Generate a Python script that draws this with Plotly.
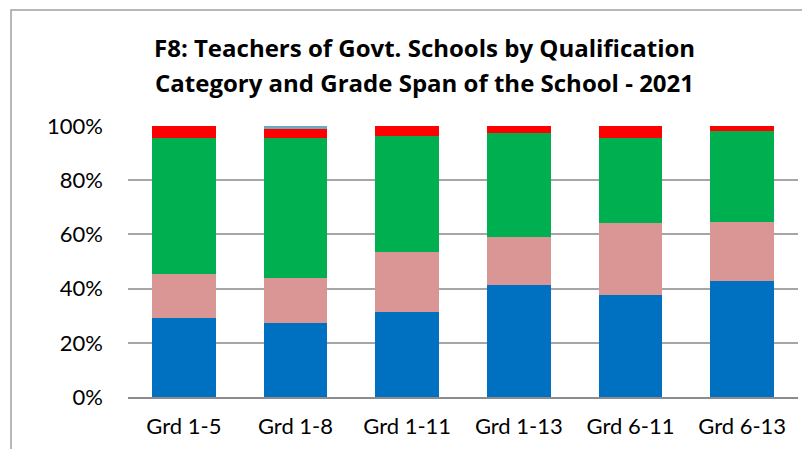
import plotly.graph_objects as go

# Grade spans and share of teachers (%) by qualification category
grades = ['Grd 1-5', 'Grd 1-8', 'Grd 1-11', 'Grd 1-13', 'Grd 6-11', 'Grd 6-13']
cat_a = [29.0, 27.4, 31.4, 41.3, 37.7, 42.8]   # blue
cat_b = [16.5, 16.6, 22.1, 17.9, 26.6, 21.9]   # pink
cat_c = [50.2, 51.4, 42.7, 38.2, 31.1, 33.6]   # green
cat_d = [4.3, 3.6, 3.8, 2.6, 4.6, 1.7]         # red
cat_e = [0.0, 1.0, 0.0, 0.0, 0.0, 0.0]         # light blue

y_ticks = [0, 20, 40, 60, 80, 100]
title_lines = ['F8: Teachers of Govt. Schools by Qualification',
               'Category and Grade Span of the School - 2021']

FONT = 'Lato, Calibri, Arial, sans-serif'
TITLE_FONT = 'Open Sans, Calibri, Arial, sans-serif'

series = [
    (cat_a, '#0070C0'),
    (cat_b, '#DA9694'),
    (cat_c, '#00B050'),
    (cat_d, '#FF0000'),
    (cat_e, '#6FA6C0'),
]

fig = go.Figure()
for vals, color in series:
    fig.add_trace(go.Bar(
        x=grades,
        y=vals,
        marker=dict(color=color, line=dict(width=0)),
        hoverinfo='x+y',
    ))

# page body has an 8px margin, so the figure is a bit smaller than the window
fig.update_layout(
    barmode='stack',
    bargap=0.427,
    showlegend=False,
    width=802,
    height=441,
    paper_bgcolor='white',
    plot_bgcolor='white',
    margin=dict(l=120, r=12, t=118, b=52, autoexpand=False),
    font=dict(family=FONT, size=22, color='#000000'),
    xaxis=dict(
        automargin=False,
        showgrid=False,
        showline=True,
        linecolor='#8c8c8c',
        linewidth=2,
        ticks='',
        ticklabelstandoff=9,
        tickfont=dict(size=22),
    ),
    yaxis=dict(
        automargin=False,
        range=[0, 100],
        tickvals=y_ticks,
        ticktext=[f'{v}%' for v in y_ticks],
        showgrid=True,
        gridcolor='#a6a6a6',
        gridwidth=1.5,
        zeroline=False,
        showline=False,
        ticks='',
        ticklabelstandoff=24,
        tickfont=dict(size=22),
    ),
)

# two-line title, placed as separate lines to control spacing
for text, ypos in zip(title_lines, [1.291, 1.162]):
    fig.add_annotation(
        text=f'<b>{text}</b>',
        xref='paper', yref='paper',
        x=0.4418, y=ypos,
        xanchor='center', yanchor='middle',
        showarrow=False,
        font=dict(family=TITLE_FONT, size=24, color='#000000'),
    )

# chart area frame (continues off the right and bottom edges)
fig.add_shape(
    type='rect', xref='paper', yref='paper',
    x0=-0.1746, y0=-0.4, x1=1.2, y1=1.428,
    line=dict(color='#a0a0a0', width=1.5),
    fillcolor='rgba(0,0,0,0)',
    layer='below',
)

fig.write_html('out.html')
